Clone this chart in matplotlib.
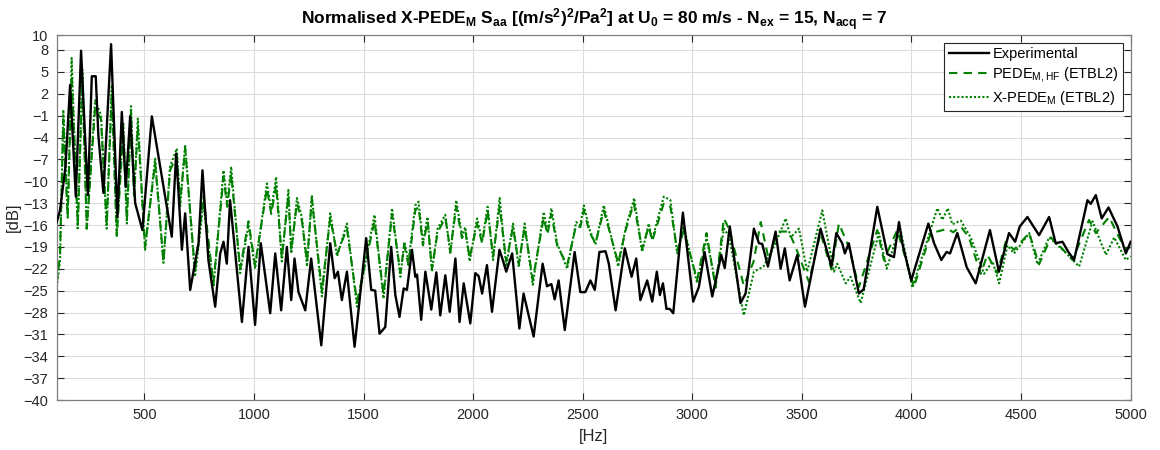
import matplotlib
matplotlib.use("Agg")
import matplotlib.pyplot as plt

plt.rcParams['font.family'] = ['Liberation Sans', 'DejaVu Sans']
plt.rcParams['mathtext.fontset'] = 'custom'
plt.rcParams['mathtext.rm'] = 'Liberation Sans'
plt.rcParams['mathtext.bf'] = 'Liberation Sans:bold'
plt.rcParams['mathtext.it'] = 'Liberation Sans'

# ---------------- data ----------------
exp_freq = [100, 115, 140, 161, 187, 211, 242, 260, 278, 290, 313, 348, 377, 397, 415, 435, 458,
            491, 534, 625, 645, 671, 686, 709, 747, 765, 792, 823, 846, 861, 876, 891, 945, 975,
            1005, 1031, 1051, 1074, 1097, 1124, 1150, 1170, 1185, 1203, 1234, 1261, 1307, 1348,
            1368, 1383, 1401, 1424, 1459, 1512, 1535, 1553, 1573, 1599, 1626, 1645, 1664, 1683,
            1698, 1721, 1736, 1744, 1763, 1782, 1809, 1832, 1850, 1873, 1893, 1919, 1938, 1957,
            1987, 2010, 2025, 2041, 2063, 2086, 2120, 2132, 2151, 2178, 2211, 2230, 2276, 2317,
            2337, 2357, 2372, 2390, 2418, 2463, 2489, 2512, 2535, 2555, 2576, 2604, 2619, 2650,
            2692, 2723, 2744, 2763, 2794, 2817, 2838, 2852, 2866, 2882, 2897, 2913, 2957, 3004,
            3030, 3056, 3091, 3132, 3148, 3171, 3220, 3243, 3281, 3304, 3319, 3345, 3380, 3403,
            3422, 3444, 3479, 3514, 3585, 3635, 3657, 3684, 3696, 3714, 3760, 3782, 3844, 3890,
            3920, 3943, 3958, 3999, 4077, 4103, 4136, 4160, 4176, 4209, 4252, 4293, 4358, 4399,
            4445, 4473, 4494, 4529, 4582, 4628, 4658, 4689, 4716, 4742, 4803, 4818, 4841, 4868,
            4899, 4940, 4978, 5000]
exp_db = [-15.6, -14.0, -8.0, 3.2, -12.1, 7.9, -11.9, 4.4, 4.4, -3.7, -11.6, 8.8, -14.9, -0.5, -10.8,
          -1.1, -13.0, -16.7, -1.1, -17.6, -6.2, -19.4, -14.4, -24.9, -18.5, -8.5, -20.8, -27.2,
          -19.9, -18.3, -21.3, -12.6, -29.3, -19.0, -29.7, -18.5, -22.9, -28.1, -19.9, -27.7,
          -19.0, -26.3, -20.6, -25.2, -27.7, -20.6, -32.5, -18.5, -23.3, -22.4, -26.3, -22.4,
          -32.7, -17.8, -24.9, -25.0, -30.9, -30.0, -19.0, -25.6, -28.6, -24.7, -24.9, -19.4,
          -23.1, -22.8, -29.0, -22.4, -27.6, -22.5, -28.4, -22.9, -27.9, -20.6, -29.3, -24.0,
          -29.5, -22.6, -23.0, -25.4, -21.5, -27.9, -19.4, -20.5, -22.4, -19.9, -30.2, -25.4,
          -31.3, -21.3, -24.4, -24.1, -26.2, -23.6, -30.4, -19.7, -25.2, -25.2, -23.6, -24.9,
          -19.7, -19.6, -21.3, -27.7, -19.2, -23.1, -20.6, -26.3, -23.6, -26.5, -22.4, -25.6,
          -24.0, -27.5, -27.5, -28.1, -14.3, -26.5, -24.5, -19.7, -25.8, -20.1, -21.9, -16.2,
          -26.7, -25.4, -16.5, -18.5, -18.6, -21.7, -16.9, -22.0, -19.2, -23.6, -20.1, -27.2,
          -16.5, -21.7, -17.1, -18.5, -19.9, -18.5, -25.4, -24.8, -13.5, -20.0, -20.4, -15.6,
          -18.5, -23.6, -15.8, -18.5, -20.8, -19.7, -19.9, -17.1, -21.8, -24.0, -16.7, -22.4,
          -17.1, -18.3, -16.2, -14.9, -17.4, -14.9, -18.5, -18.3, -19.7, -20.8, -12.6, -13.1,
          -11.9, -15.1, -13.6, -16.2, -19.9, -18.3]

hf_freq = [100, 115, 130, 150, 168, 196, 217, 237, 275, 302, 328, 351, 374, 404, 420, 439, 453, 470,
           503, 549, 587, 617, 648, 663, 686, 731, 769, 815, 861, 878, 896, 937, 975, 1005, 1059,
           1079, 1101, 1127, 1157, 1170, 1196, 1219, 1242, 1264, 1310, 1348, 1379, 1424, 1470,
           1550, 1591, 1630, 1668, 1686, 1705, 1736, 1751, 1771, 1792, 1812, 1838, 1873, 1896,
           1923, 1949, 1964, 1984, 2018, 2041, 2066, 2091, 2121, 2151, 2182, 2208, 2235, 2272,
           2322, 2339, 2357, 2383, 2429, 2470, 2489, 2505, 2531, 2558, 2596, 2662, 2695, 2733,
           2771, 2801, 2817, 2870, 2900, 2931, 2961, 3022, 3065, 3106, 3144, 3167, 3235, 3280,
           3312, 3349, 3388, 3440, 3471, 3532, 3585, 3635, 3669, 3714, 3760, 3844, 3874, 3935,
           4011, 4088, 4130, 4164, 4190, 4225, 4262, 4316, 4346, 4392, 4430, 4468, 4537, 4582,
           4636, 4689, 4735, 4810, 4841, 4902, 4947, 4978, 5000]
hf_db = [-24.0, -20.0, -1.5, -15.0, 4.5, -16.0, 4.0, -16.5, 0.0, -1.5, -16.0, 2.0, -17.5, -3.0, -15.5,
         -0.5, -12.0, -2.5, -19.0, -7.5, -21.0, -8.5, -6.5, -13.0, -5.5, -22.5, -12.0, -24.0, -9.5,
         -13.5, -9.0, -22.0, -15.5, -21.5, -11.0, -14.5, -10.5, -20.5, -12.0, -19.5, -13.0, -15.5,
         -21.0, -12.5, -25.0, -15.0, -20.0, -16.5, -26.5, -15.5, -25.5, -14.5, -22.5, -18.8, -21.5,
         -14.0, -13.5, -18.8, -15.5, -22.0, -17.0, -15.0, -19.5, -13.5, -17.8, -16.8, -20.5, -15.8,
         -18.5, -14.0, -20.3, -13.5, -21.0, -16.3, -21.3, -16.3, -23.5, -15.0, -17.3, -14.5, -18.8,
         -21.5, -16.0, -16.3, -14.0, -17.0, -18.5, -14.0, -21.2, -16.8, -13.0, -19.3, -16.2, -18.2,
         -13.0, -13.5, -19.5, -16.8, -23.5, -17.1, -24.6, -15.1, -16.5, -24.3, -21.0, -15.6, -20.8,
         -16.9, -16.9, -19.0, -23.8, -17.1, -22.1, -15.8, -19.0, -24.5, -16.7, -20.8, -16.7, -24.5,
         -17.1, -16.8, -16.5, -17.0, -16.2, -17.7, -22.7, -20.1, -22.6, -18.3, -19.4, -17.1, -21.4,
         -17.7, -19.3, -20.8, -15.3, -17.1, -14.9, -17.7, -19.4, -19.0]

xp_freq = [100, 115, 130, 150, 168, 196, 217, 237, 275, 302, 328, 351, 374, 404, 420, 439, 453, 470,
           503, 549, 587, 617, 648, 663, 686, 731, 769, 815, 861, 878, 896, 937, 975, 1005, 1059,
           1079, 1101, 1127, 1157, 1170, 1196, 1219, 1242, 1264, 1310, 1348, 1379, 1424, 1470,
           1550, 1591, 1630, 1668, 1686, 1705, 1736, 1751, 1771, 1792, 1812, 1838, 1873, 1896,
           1923, 1949, 1964, 1984, 2018, 2041, 2066, 2091, 2121, 2151, 2182, 2208, 2235, 2272,
           2322, 2339, 2357, 2383, 2429, 2470, 2489, 2505, 2531, 2558, 2596, 2662, 2695, 2735,
           2771, 2801, 2817, 2870, 2900, 2931, 2961, 3022, 3065, 3106, 3144, 3167, 3235, 3281,
           3325, 3380, 3426, 3449, 3487, 3524, 3593, 3646, 3661, 3700, 3722, 3768, 3851, 3887,
           3947, 4004, 4118, 4141, 4166, 4186, 4225, 4270, 4331, 4370, 4400, 4438, 4468, 4537,
           4575, 4628, 4704, 4765, 4826, 4887, 4925, 4978, 5000]
xp_db = [-24.5, -21.0, -0.2, -14.6, 6.9, -16.7, 5.3, -16.7, 1.1, -0.9, -16.5, 3.2, -17.2, -2.0, -15.8,
         0.3, -12.0, -1.4, -19.4, -6.9, -21.2, -8.0, -5.5, -13.5, -5.0, -23.1, -13.0, -24.5, -8.5,
         -13.0, -8.0, -22.6, -16.0, -22.0, -10.3, -14.0, -9.4, -21.0, -11.2, -19.9, -12.3, -15.0,
         -21.7, -11.9, -25.8, -14.4, -20.3, -15.8, -27.2, -14.6, -26.1, -13.7, -23.1, -18.3, -21.0,
         -13.3, -12.8, -18.5, -14.9, -22.4, -16.5, -14.6, -20.0, -12.6, -17.5, -16.3, -21.0, -15.1,
         -18.2, -13.5, -20.8, -12.3, -21.7, -15.8, -21.8, -15.8, -24.2, -14.2, -17.0, -13.7, -18.5,
         -22.0, -15.6, -16.0, -13.3, -16.6, -18.7, -13.3, -21.7, -16.5, -12.3, -19.7, -15.8, -18.0,
         -12.1, -12.6, -19.9, -16.2, -24.0, -17.8, -24.0, -16.5, -17.5, -28.4, -22.4, -21.7, -18.5,
         -15.1, -17.7, -16.5, -22.4, -14.0, -22.4, -21.3, -24.0, -23.1, -26.7, -17.1, -22.0, -16.2,
         -24.6, -13.7, -15.3, -13.7, -15.9, -15.4, -17.7, -22.7, -21.0, -24.0, -18.8, -19.9, -17.1,
         -21.4, -17.7, -19.8, -21.7, -15.5, -20.1, -17.7, -20.8, -20.3]

y_ticks = [-40, -37, -34, -31, -28, -25, -22, -19, -16, -13, -10, -7, -4, -1, 2, 5, 8, 10]
x_ticks = [500, 1000, 1500, 2000, 2500, 3000, 3500, 4000, 4500, 5000]

# ---------------- figure ----------------
fig = plt.figure(figsize=(11.6, 4.5), dpi=100)
ax = fig.add_axes([0.0489, 0.1111, 0.9258, 0.8102])

green = '#008000'
ax.plot(exp_freq, exp_db, color='black', lw=1.7, label='Experimental', zorder=3,
        solid_joinstyle='round')
ax.plot(hf_freq, hf_db, color=green, lw=1.5, ls=(0, (4, 3)), label=r'PEDE$_\mathrm{M,HF}$ (ETBL2)',
        zorder=2, dash_joinstyle='round')
ax.plot(xp_freq, xp_db, color=green, lw=1.5, ls=(0, (1, 1)), label=r'X-PEDE$_\mathrm{M}$ (ETBL2)',
        zorder=2, dash_joinstyle='round')

ax.set_xlim(100, 5000)
ax.set_ylim(-40, 10)
ax.set_xticks(x_ticks)
ax.set_yticks(y_ticks)
ax.grid(True, color='#dcdcdc', lw=0.8)
ax.set_axisbelow(True)
ax.tick_params(direction='in', length=5, width=0.8, top=True, right=True,
               labelsize=10.5, colors='#262626', pad=6)
for s in ax.spines.values():
    s.set_color('#7f7f7f')
    s.set_linewidth(0.9)

ax.set_xlabel('[Hz]', fontsize=12, color='#262626', labelpad=5)
ax.set_ylabel('[dB]', fontsize=12, color='#262626', labelpad=2)
ax.set_title(r'Normalised X-PEDE$_\mathbf{M}$ S$_\mathbf{aa}$ [(m/s$^\mathbf{2}$)$^\mathbf{2}$/Pa$^\mathbf{2}$] at U$_\mathbf{0}$ = 80 m/s - N$_\mathbf{ex}$ = 15, N$_\mathbf{acq}$ = 7',
             fontsize=12.5, fontweight='bold', pad=8)

leg = ax.legend(loc='upper right', fontsize=10.5, frameon=True, fancybox=False, framealpha=1,
                edgecolor='#262626', handlelength=2.8, handletextpad=0.2, borderpad=0.3,
                labelspacing=0.3, borderaxespad=0.5)
leg.get_frame().set_linewidth(0.8)

fig.savefig('out.png', dpi=100)
